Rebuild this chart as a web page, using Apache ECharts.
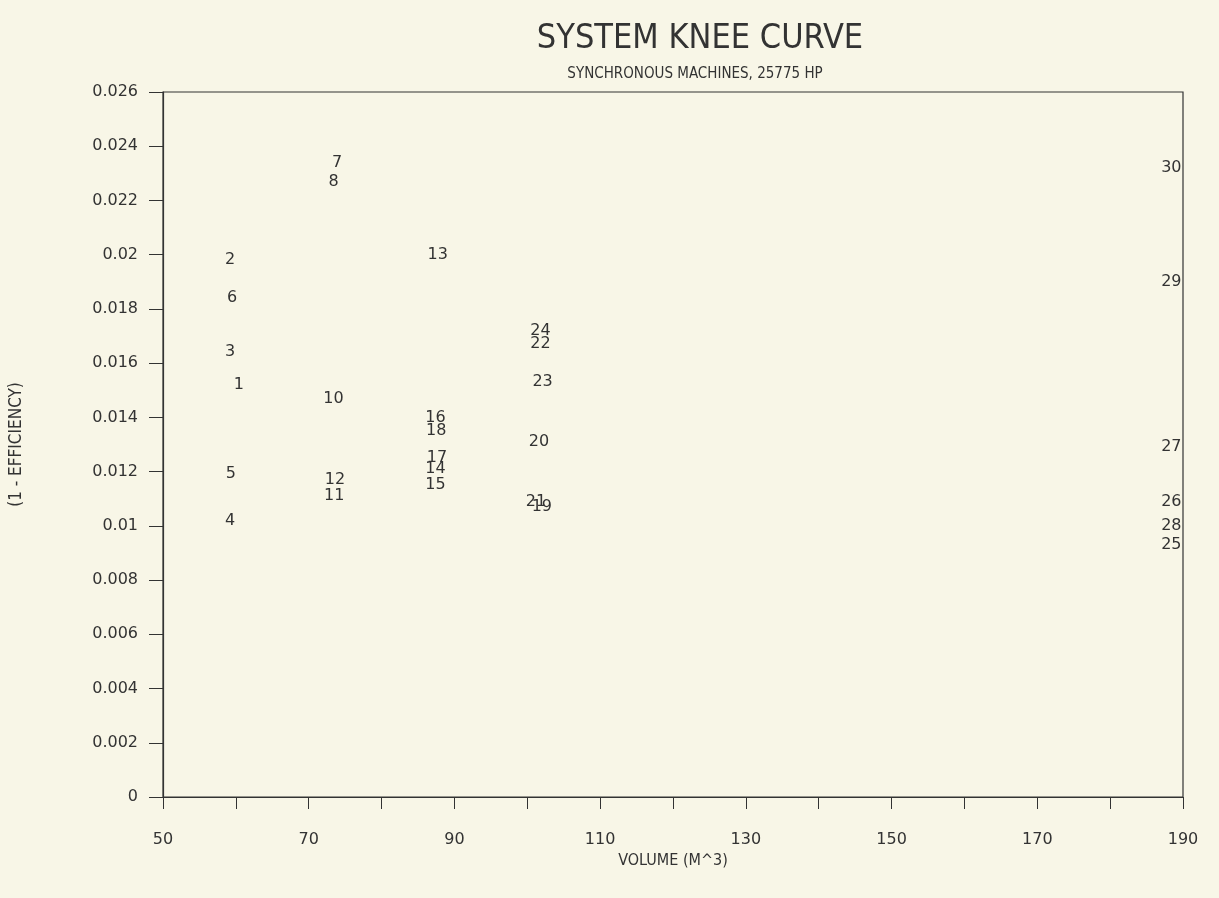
<!DOCTYPE html>
<html><head><meta charset="utf-8">
<script src="https://cdn.jsdelivr.net/npm/echarts@6/dist/echarts.min.js"></script>
<style>html,body{margin:0;padding:0;background:#f8f6e7;}#c{width:1219px;height:898px;}</style>
</head><body><div id="c"></div>
<script>
const pointIds = ['1','2','3','4','5','6','7','8','10','11','12','13','14','15','16','17','18','19','20','21','22','23','24','25','26','27','28','29','30'];
const volume = [60.4,59.2,59.2,59.2,59.3,59.5,73.9,73.4,73.4,73.5,73.6,87.7,87.4,87.4,87.4,87.6,87.5,102.0,101.6,101.2,101.8,102.1,101.8,188.4,188.4,188.4,188.4,188.4,188.4];
const loss = [0.0152,0.0198,0.0164,0.0102,0.0119,0.0184,0.0234,0.0227,0.0147,0.0111,0.0117,0.0200,0.0121,0.0115,0.0140,0.0125,0.0135,0.0107,0.0131,0.0109,0.0167,0.0153,0.0172,0.0093,0.0109,0.0129,0.0100,0.0190,0.0232];
const xTickLabels = ['50','70','90','110','130','150','170','190'];
const yTickLabels = ['0','0.002','0.004','0.006','0.008','0.01','0.012','0.014','0.016','0.018','0.02','0.022','0.024','0.026'];

const ink = '#333333';
const font = "'DejaVu Sans', sans-serif";
const narrow = "'Liberation Sans Narrow','DejaVu Sans Condensed',sans-serif";
const chart = echarts.init(document.getElementById('c'));
chart.setOption({
  backgroundColor: '#f8f6e7',
  animation: false,
  title: [
    {text: 'SYSTEM KNEE CURVE', left: 695, top: 17, textAlign: 'center',
     textStyle: {fontFamily: narrow, fontWeight: 'normal', fontSize: 34, color: ink}},
    {text: 'SYNCHRONOUS MACHINES, 25775 HP', left: 690, top: 62, textAlign: 'center',
     textStyle: {fontFamily: narrow, fontWeight: 'normal', fontSize: 15, color: ink}}
  ],
  grid: {left: 162, right: 36, top: 92, bottom: 101, show: true, borderColor: ink, borderWidth: 1.2, backgroundColor: 'transparent'},
  xAxis: {
    type: 'value', min: 50, max: 190, interval: 10,
    name: 'VOLUME (M^3)', nameLocation: 'middle', nameGap: 52,
    nameTextStyle: {fontFamily: narrow, fontSize: 16, color: ink},
    axisLine: {lineStyle: {color: ink, width: 1.2}},
    axisTick: {inside: false, length: 12, lineStyle: {color: ink}},
    splitLine: {show: false},
    axisLabel: {margin: 35, fontFamily: font, fontSize: 16, color: ink,
      formatter: v => { const s = String(Math.round(v)); return xTickLabels.indexOf(s) >= 0 ? s : ''; }}
  },
  yAxis: {
    type: 'value', min: 0, max: 0.026, interval: 0.002,
    name: '(1 - EFFICIENCY)', nameLocation: 'middle', nameGap: 138, nameRotate: 90,
    nameTextStyle: {fontFamily: narrow, fontSize: 17, color: ink},
    axisLine: {lineStyle: {color: ink, width: 1.2}},
    axisTick: {inside: false, length: 14, lineStyle: {color: ink}},
    splitLine: {show: false},
    axisLabel: {margin: 25, fontFamily: font, fontSize: 16, color: ink,
      formatter: v => { const i = Math.round(v / 0.002); return yTickLabels[i] || ''; }}
  },
  series: [{
    type: 'scatter',
    symbolSize: 0,
    silent: true,
    data: volume.map((x, i) => ({value: [x, loss[i]], name: pointIds[i]})),
    label: {show: true, position: 'inside', formatter: p => p.name,
      fontFamily: font, fontSize: 16, color: ink, opacity: 1}
  }]
});
</script></body></html>
